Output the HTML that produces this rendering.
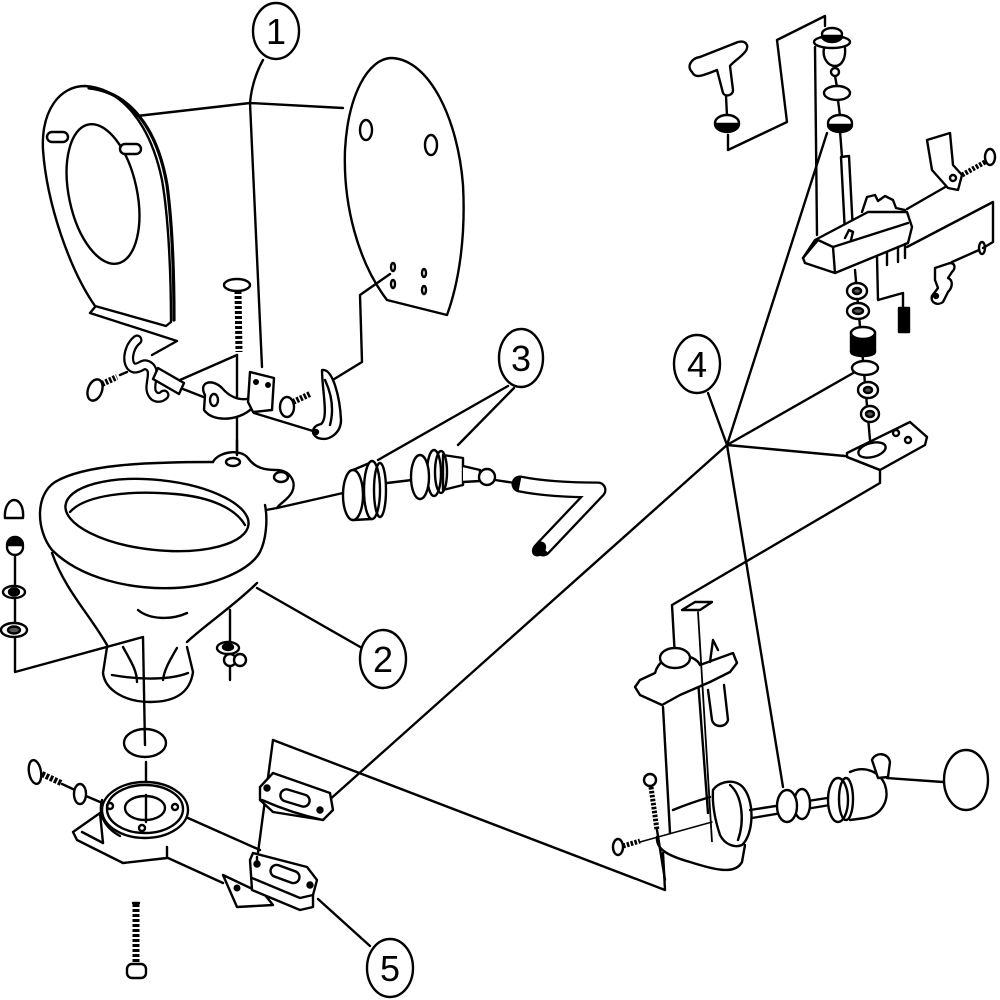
<!DOCTYPE html>
<html><head><meta charset="utf-8"><style>
html,body{margin:0;padding:0;background:#fff;}
svg{display:block;}
text{font-family:"Liberation Sans",sans-serif;font-size:36px;fill:#000;stroke:none;}
</style></head><body>
<svg width="1000" height="1000" viewBox="0 0 1000 1000" xmlns="http://www.w3.org/2000/svg">
<rect width="1000" height="1000" fill="#fff"/>
<g fill="none" stroke="#000" stroke-width="2.4" stroke-linejoin="round" stroke-linecap="round">

<!-- ===== Part 1: seat, lid, hinges ===== -->
<path d="M263,60 Q252,80 250,103"/>
<path d="M137,116 L250,103 L343,108"/>
<path d="M250,103 L262,367"/>

<!-- seat -->
<path d="M95,306 C70,270 47,205 43,150 C41,110 60,86 85,86 C120,88 150,122 162,180 C169,220 171,280 171,322 L166,326 Z" fill="#fff"/>
<path d="M89,88 C128,92 157,126 167,185 C173,230 174,280 174,320" stroke-width="3.2"/>
<ellipse cx="103" cy="194" rx="34" ry="71" transform="rotate(-12 103 194)"/>
<rect x="47" y="132" width="21" height="10" rx="5" fill="#fff"/>
<rect x="120" y="144" width="21" height="10" rx="5" fill="#fff"/>
<path d="M95,307 L90,313 L177,341 L152,355"/>

<!-- lid -->
<path d="M387,300 C358,262 343,205 345,150 C348,95 368,58 392,58 C430,60 458,120 463,185 C466,240 458,285 447,315 Z" fill="#fff"/>
<ellipse cx="366" cy="130" rx="6" ry="10"/>
<ellipse cx="431" cy="145" rx="6" ry="10"/>
<ellipse cx="393" cy="267" rx="2" ry="4"/>
<ellipse cx="393" cy="284" rx="2" ry="4"/>
<ellipse cx="424" cy="273" rx="2" ry="4"/>
<ellipse cx="424" cy="290" rx="2" ry="4"/>
<path d="M390,274 L360,295 L362,362 L331,381"/>

<!-- left hinge (S-shaped strip) -->
<path d="M137,340 C127,348 126,366 134,368 C141,369 143,361 150,367 C156,373 148,386 152,393 C155,399 161,398 164,395" stroke-width="11"/>
<path d="M137,340 C127,348 126,366 134,368 C141,369 143,361 150,367 C156,373 148,386 152,393 C155,399 161,398 164,395" stroke="#fff" stroke-width="6.5"/>
<polygon points="158,368 184,383 179,394 153,379" fill="#fff"/>
<ellipse cx="95" cy="390" rx="7" ry="11" transform="rotate(20 95 390)" fill="#fff"/>
<path d="M102,384 L117,377" stroke-width="6" stroke-dasharray="2.5,1.5" stroke-linecap="butt"/>
<path d="M120,375 L127,372"/>
<path d="M180,380 L237,355"/>
<ellipse cx="237" cy="285" rx="13" ry="6" fill="#fff"/>
<path d="M238,291 L239,352" stroke-width="7" stroke-dasharray="3,2" stroke-linecap="butt"/>
<path d="M237,355 L237,455"/>
<path d="M183,389 L206,398"/>
<path d="M205,395 C198,382 212,378 222,388 C228,395 238,402 252,398 L254,406 C243,420 214,424 204,410 Z" fill="#fff"/>
<ellipse cx="214" cy="400" rx="4" ry="6"/>
<polygon points="250,372 274,378 272,410 253,412 248,402" fill="#fff"/>
<circle cx="256" cy="382" r="1.8" fill="#000"/>
<circle cx="268" cy="385" r="1.8" fill="#000"/>
<path d="M254,413 L313,431"/>
<ellipse cx="287" cy="407" rx="7" ry="10" fill="#fff"/>
<path d="M293,402 L310,394" stroke-width="6" stroke-dasharray="2.5,1.5" stroke-linecap="butt"/>
<path d="M322,370 C333,368 340,398 341,420 C341,432 330,442 318,438 C310,434 312,426 321,424 C329,418 322,390 322,370 Z" fill="#fff"/>
<path d="M325,380 C332,395 334,410 330,425"/>
<circle cx="316" cy="432" r="2" fill="#000"/>

<!-- label 1 -->
<ellipse cx="276" cy="31" rx="23" ry="28" fill="#fff"/>
<text x="276" y="44" text-anchor="middle">1</text>

<!-- ===== Part 2: bowl ===== -->
<path d="M213,462 C150,462 85,464 55,482 C35,495 36,530 52,550 C80,578 130,590 175,588 C215,586 250,570 260,552 C266,540 268,520 265,505" fill="#fff"/>
<path d="M213,462 C218,452 240,448 248,458 C255,468 265,470 276,470 C290,470 297,482 292,492 C288,500 280,503 277,508 L266,510"/>
<ellipse cx="233" cy="462" rx="7" ry="4"/>
<ellipse cx="281" cy="477" rx="7" ry="5"/>
<ellipse cx="157" cy="515" rx="92" ry="35" transform="rotate(6 157 515)"/>
<path d="M70,512 C85,495 130,490 175,494 C210,497 235,508 245,525"/>
<path d="M52,553 C65,590 90,615 107,645"/>
<path d="M257,583 C235,605 205,625 187,642"/>
<path d="M107,647 L103,673 C105,690 125,702 150,702 C175,702 190,693 193,672 L187,647"/>
<path d="M112,675 C140,680 170,680 188,673"/>
<path d="M123,647 C130,660 137,670 137,682"/>
<path d="M177,648 C170,660 164,670 163,680"/>
<path d="M138,610 C150,620 172,620 187,613"/>
<path d="M237,440 L237,455"/>
<path d="M257,588 L362,648"/>
<path d="M277,508 L343,493"/>
<ellipse cx="383" cy="659" rx="23" ry="29" fill="#fff"/>
<text x="383" y="672" text-anchor="middle">2</text>

<!-- left hardware -->
<path d="M5,518 C4,506 10,500 14,500 C19,500 24,506 23,518 Z" fill="#fff"/>
<path d="M15,540 L15,672 L143,637 L145,745"/>
<circle cx="15" cy="547" r="8" fill="#fff"/>
<path d="M7,545 A8,8 0 0 1 23,545 Z" fill="#000"/>
<ellipse cx="14" cy="592" rx="11" ry="6" fill="#fff"/>
<ellipse cx="14" cy="592" rx="5" ry="3.5" fill="#000"/>
<ellipse cx="14" cy="630" rx="13" ry="7" fill="#fff"/>
<ellipse cx="14" cy="630" rx="6" ry="3.5" fill="#555"/>

<!-- nut -->
<path d="M230,610 L230,680"/>
<ellipse cx="228" cy="648" rx="11" ry="6" fill="#fff"/>
<ellipse cx="228" cy="647" rx="5" ry="3" fill="#000"/>
<circle cx="230" cy="660" r="6" fill="#fff"/>
<circle cx="240" cy="660" r="6" fill="#fff"/>

<!-- ring -->
<ellipse cx="145" cy="743" rx="21" ry="14"/>
<path d="M146,762 L146,815"/>

<!-- flange and pipe -->
<path d="M188,818 L260,850"/>
<path d="M168,858 L223,883"/>
<path d="M100,813 L73,832 L77,840 L123,863 L167,858 L167,847" fill="#fff"/>
<path d="M100,813 L103,843"/>
<path d="M82,832 L103,843"/>
<path d="M102,800 C98,815 105,828 120,836"/>
<ellipse cx="145" cy="810" rx="43" ry="28" fill="#fff"/>
<ellipse cx="145" cy="809" rx="38" ry="24"/>
<ellipse cx="145" cy="808" rx="20" ry="12" fill="#fff"/>
<path d="M146,795 L146,822"/>
<circle cx="110" cy="806" r="3"/>
<circle cx="175" cy="807" r="3"/>
<circle cx="142" cy="828" r="3"/>
<ellipse cx="35" cy="772" rx="6" ry="12" transform="rotate(-10 35 772)" fill="#fff"/>
<path d="M42,774 L61,783" stroke-width="6" stroke-dasharray="3,1.5" stroke-linecap="butt"/>
<path d="M62,784 L75,790"/>
<ellipse cx="80" cy="794" rx="6" ry="10" fill="#fff"/>
<path d="M86,796 L100,802"/>

<!-- bottom bolt -->
<path d="M136,904 L136,965" stroke-width="7" stroke-dasharray="3,2" stroke-linecap="butt"/>
<path d="M133,903 L139,903"/>
<rect x="127" y="964" width="19" height="14" rx="5" fill="#fff"/>

<!-- plates (5) -->
<path d="M273,740 L665,890 L663,853"/>
<path d="M273,740 L257,860"/>
<path d="M327,802 L727,445"/>
<path d="M260,787 L273,773 L330,793 L333,810 L323,820 L273,812 L260,800 Z" fill="#fff"/>
<path d="M262,800 C280,808 300,815 323,820"/>
<rect x="280" y="792" width="30" height="12" rx="6" transform="rotate(17 295 798)" fill="#fff"/>
<circle cx="267" cy="788" r="2.5" fill="#000"/>
<circle cx="320" cy="810" r="2.5" fill="#000"/>
<path d="M223,875 L237,907 L273,905 L265,895 Z" fill="#fff"/>
<circle cx="237" cy="888" r="2.3" fill="#000"/>
<path d="M253,853 L307,867 L317,880 L313,895 L313,907 L300,910 L252,890 L250,860 Z" fill="#fff"/>
<path d="M252,878 L300,898 L313,895"/>
<path d="M257,857 L257,863"/>
<rect x="270" y="868" width="30" height="12" rx="6" transform="rotate(20 285 874)" fill="#fff"/>
<circle cx="257" cy="864" r="2.5" fill="#000"/>
<circle cx="310" cy="885" r="2.5" fill="#000"/>
<path d="M318,899 L370,946"/>
<ellipse cx="390" cy="968" rx="23" ry="29" fill="#fff"/>
<text x="390" y="981" text-anchor="middle">5</text>

<!-- ===== Part 3: fittings and hose ===== -->
<path d="M378,460 L508,386"/>
<path d="M458,445 L514,388"/>
<ellipse cx="521" cy="358" rx="22" ry="29" fill="#fff"/>
<text x="521" y="371" text-anchor="middle">3</text>

<path d="M353,470 L372,462 M353,520 L372,519"/>
<ellipse cx="353" cy="495" rx="10" ry="25" fill="#fff"/>
<ellipse cx="372" cy="490" rx="8" ry="29" fill="#fff"/>
<ellipse cx="380" cy="490" rx="6" ry="27"/>
<path d="M387,483 L412,480"/>
<path d="M443,455 L463,458 L463,485 L443,490 Z" fill="#fff"/>
<path d="M463,466 L480,470 L480,481 L463,482" fill="#fff"/>
<circle cx="487" cy="477" r="8" fill="#fff"/>
<ellipse cx="434" cy="473" rx="7" ry="23" fill="#fff"/>
<ellipse cx="441" cy="472" rx="6" ry="21"/>
<ellipse cx="420" cy="477" rx="9" ry="22" fill="#fff"/>
<path d="M495,480 L515,483"/>
<path d="M520,484 C540,488 570,490 598,490 L543,548" stroke-width="17" stroke-linejoin="round"/>
<path d="M520,484 C540,488 570,490 598,490 L543,548" stroke="#fff" stroke-width="12.4" stroke-linejoin="round" stroke-linecap="butt"/>
<ellipse cx="539" cy="549" rx="5" ry="7" fill="#000" transform="rotate(40 539 549)"/>

<!-- ===== Part 4: pump mechanism ===== -->
<path d="M727,445 L708,393"/>
<path d="M727,445 L827,133"/>
<path d="M727,445 L855,372"/>
<path d="M727,445 L845,456"/>
<path d="M727,445 L783,787"/>
<ellipse cx="697" cy="364" rx="23" ry="29" fill="#fff"/>
<text x="697" y="377" text-anchor="middle">4</text>

<!-- T handle -->
<path d="M692,72 C686,66 692,58 700,57 L738,42 C746,40 750,46 745,52 C740,58 733,62 730,66 L733,90 C733,96 725,97 723,93 L717,70 C712,72 703,76 698,76 C695,76 693,74 692,72 Z" fill="#fff"/>
<path d="M726,96 L727,116"/>
<ellipse cx="727" cy="123" rx="12" ry="8" fill="#fff"/>
<path d="M715,124 A12,8 0 0 0 739,124 Z" fill="#000"/>
<path d="M728,135 L728,150 L787,122 L777,40 L825,16 L825,26"/>

<!-- top cap stack -->
<path d="M815,47 L817,235"/>
<ellipse cx="832" cy="42" rx="18" ry="6" fill="#fff"/>
<ellipse cx="832" cy="34" rx="10" ry="6" fill="#fff"/>
<path d="M822,36 A10,6 0 0 0 842,36 Z" fill="#000"/>
<path d="M824,48 C822,58 828,66 835,66 C842,66 846,58 845,48"/>
<circle cx="835" cy="72" r="4" fill="#fff"/>
<path d="M835,76 L837,87"/>
<ellipse cx="837" cy="93" rx="13" ry="7" fill="#fff"/>
<path d="M838,100 L840,116"/>
<ellipse cx="840" cy="123" rx="12" ry="8" fill="#fff"/>
<path d="M828,125 A12,7 0 0 0 852,125 Z" fill="#000"/>
<path d="M840,131 L842,157"/>
<path d="M841,157 L849,156 L853,232 L845,233 Z" fill="#fff"/>

<!-- block -->
<path d="M862,212 L867,197 L875,195 L878,201 L885,196 L893,200 L896,208 L905,210" fill="#fff"/>
<path d="M815,240 L868,212 L907,212 L912,227 L908,243 L835,273 L805,263 L803,258 Z" fill="#fff"/>
<path d="M803,258 L818,240 L833,247 L908,223"/>
<path d="M833,247 L835,273"/>
<path d="M845,238 L849,230 L853,232 L851,240"/>
<path d="M887,252 L887,265 M898,247 L898,262 M905,244 L905,258"/>
<path d="M907,209 L947,186"/>
<path d="M927,140 L950,133 L953,165 L962,175 L958,190 L948,188 L932,170 Z" fill="#fff"/>
<circle cx="953" cy="178" r="3"/>
<path d="M962,175 L985,162" stroke-width="5" stroke-dasharray="2.5,1.5" stroke-linecap="butt"/>
<ellipse cx="990" cy="157" rx="5" ry="8" fill="#fff"/>
<path d="M877,257 L878,300 L903,293 L903,308"/>
<rect x="899" y="308" width="10" height="24" fill="#000"/>
<path d="M907,247 L993,202 L993,242 L983,248"/>
<ellipse cx="982" cy="248" rx="3" ry="6"/>
<path d="M979,250 L952,262"/>
<path d="M935,268 L950,263 C955,263 956,268 952,272 L948,278 C953,280 953,287 948,292 L943,302 C938,306 930,303 932,296 L938,288 L935,280 Z" fill="#fff"/>
<circle cx="936" cy="296" r="2" fill="#000"/>

<!-- washers -->
<path d="M855,270 L870,440"/>
<ellipse cx="857" cy="291" rx="10" ry="8" fill="#fff"/>
<ellipse cx="857" cy="291" rx="4" ry="3" fill="#555"/>
<ellipse cx="858" cy="311" rx="11" ry="8" fill="#fff"/>
<ellipse cx="858" cy="311" rx="5" ry="3" fill="#555"/>
<rect x="851" y="332" width="24" height="20" fill="#000"/>
<ellipse cx="863" cy="333" rx="12" ry="6" fill="#fff"/>
<ellipse cx="863" cy="352" rx="12" ry="4" fill="#000"/>
<ellipse cx="865" cy="368" rx="13" ry="7" fill="#fff"/>
<ellipse cx="868" cy="390" rx="10" ry="8" fill="#fff"/>
<ellipse cx="868" cy="390" rx="4" ry="3" fill="#555"/>
<ellipse cx="870" cy="414" rx="9" ry="8" fill="#fff"/>
<ellipse cx="870" cy="414" rx="4" ry="3" fill="#555"/>
<path d="M847,453 L910,422 L927,437 L925,445 L880,470 L847,457 Z" fill="#fff"/>
<path d="M847,457 L880,470"/>
<ellipse cx="872" cy="450" rx="14" ry="7" transform="rotate(-15 872 450)" fill="#fff"/>
<circle cx="896" cy="433" r="3"/>
<circle cx="908" cy="440" r="3"/>
<path d="M880,470 L880,483 L672,605 L675,658"/>

<!-- pump -->
<path d="M682,610 L695,602 L712,602 L700,610 Z" fill="#fff"/>
<path d="M663,707 L670,833"/>
<path d="M698,680 L708,813"/>
<path d="M673,810 C685,805 700,800 710,797"/>
<path d="M635,687 L640,680 L655,673 C658,662 668,655 678,655 C690,655 698,660 700,665 L733,653 L737,663 L730,672 L710,682 L680,695 L662,705 L640,695 Z" fill="#fff"/>
<ellipse cx="675" cy="658" rx="15" ry="10" fill="#fff"/>
<path d="M710,662 L713,640 L718,650"/>
<path d="M708,690 L712,720 C714,728 726,728 728,720 L724,685" fill="#fff"/>
<path d="M698,612 L712,842" stroke-width="1.8"/>
<path d="M657,837 C656,848 665,855 690,862 C715,870 735,875 742,862 L745,845" fill="#fff"/>
<path d="M713,790 C720,780 738,778 745,790 C755,805 753,835 742,845 C735,848 725,845 720,835 C715,820 712,805 713,790 Z" fill="#fff"/>
<path d="M730,785 C742,795 745,820 738,840"/>
<path d="M640,842 L712,822" stroke-width="1.5"/>
<circle cx="650" cy="780" r="6" fill="#fff"/>
<path d="M651,787 L657,830" stroke-width="5" stroke-dasharray="2.5,1.5" stroke-linecap="butt"/>
<path d="M657,830 L665,880"/>
<ellipse cx="618" cy="847" rx="5" ry="8" fill="#fff"/>
<path d="M623,846 L640,841" stroke-width="5" stroke-dasharray="2.5,1.5" stroke-linecap="butt"/>

<!-- rod, nut, cylinder, ball -->
<path d="M750,810 L840,796 M752,818 L842,803"/>
<ellipse cx="802" cy="804" rx="8" ry="15" fill="#fff"/>
<ellipse cx="787" cy="806" rx="10" ry="16" fill="#fff"/>
<path d="M850,772 C865,765 880,772 885,785 C890,800 882,815 865,818 L850,820" fill="#fff"/>
<path d="M872,760 C875,752 888,752 890,762 L888,777 L878,778 Z" fill="#fff"/>
<ellipse cx="838" cy="800" rx="10" ry="22" fill="#fff"/>
<ellipse cx="846" cy="799" rx="7" ry="21"/>
<path d="M887,778 L943,782"/>
<ellipse cx="966" cy="780" rx="22" ry="30" fill="#fff"/>
</g>
</svg>
</body></html>
